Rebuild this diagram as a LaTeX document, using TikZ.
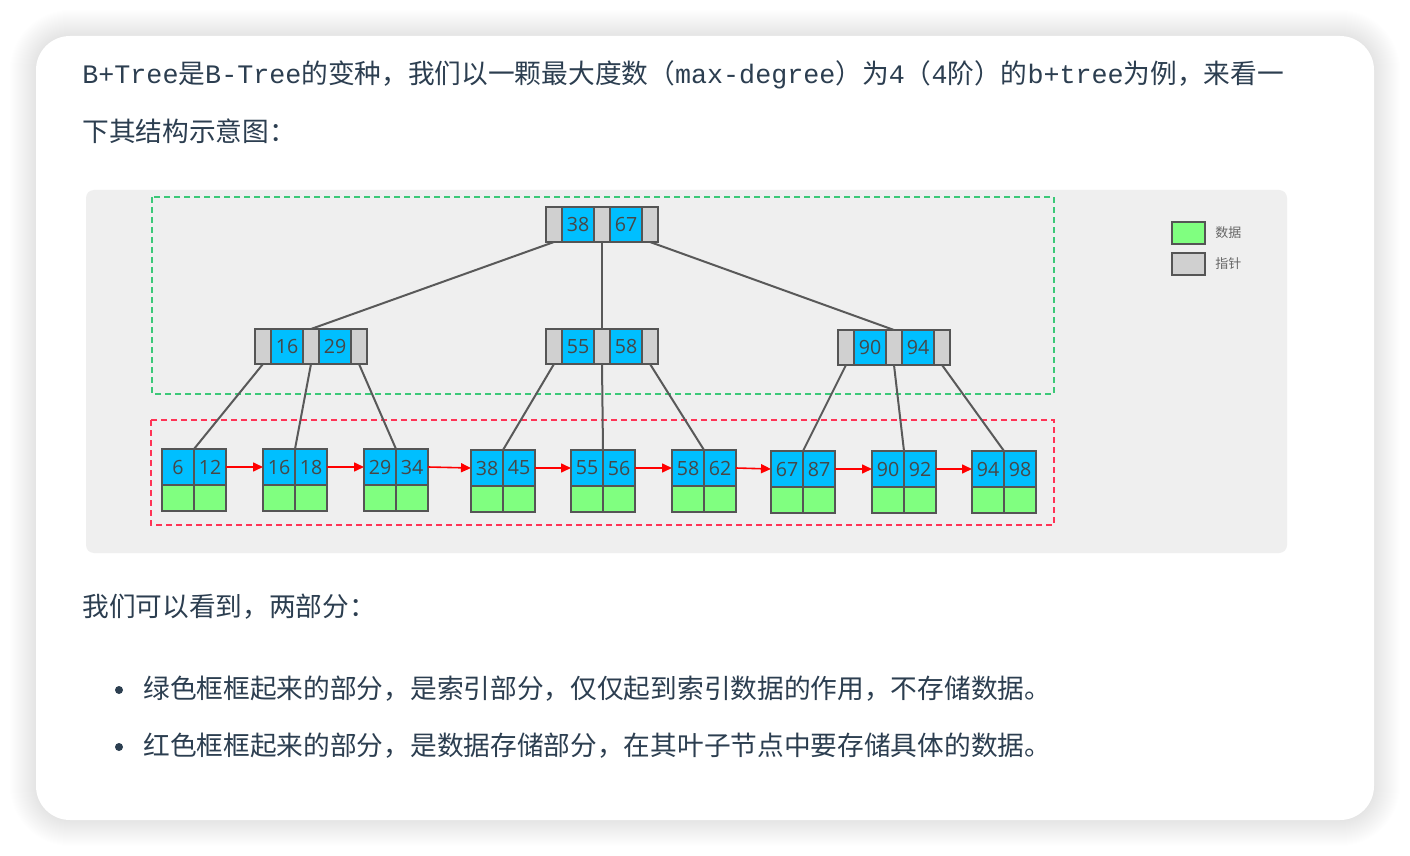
\documentclass[tikz,border=0pt]{standalone}
\usepackage{fontspec}
\setmainfont{Noto Sans CJK SC}
\setmonofont{Liberation Mono}
\newfontfamily\numfont{Open Sans}
\usetikzlibrary{arrows.meta, positioning}
\definecolor{keyblue}{HTML}{00BFFF}
\definecolor{datgreen}{HTML}{80FF80}
\definecolor{ptrgray}{HTML}{D0D0D0}
\definecolor{cellline}{HTML}{555555}
\definecolor{txt}{HTML}{2C3E50}
\definecolor{panel}{HTML}{EFEFEF}
\definecolor{idxgreen}{HTML}{3CC878}
\definecolor{leafred}{HTML}{FF3355}

\tikzset{
  cell/.style={draw=cellline, line width=0.7pt, inner sep=0pt, outer sep=0pt,
    minimum height=17.5pt, font=\numfont\fontsize{9.8}{11}\selectfont, text=black!72},
  ptr/.style={cell, fill=ptrgray, minimum width=8pt},
  key/.style={cell, fill=keyblue, minimum width=16pt},
  dat/.style={cell, fill=datgreen, minimum width=16pt, minimum height=13pt},
  edge/.style={draw=black!65, line width=1pt},
  link/.style={draw=red, line width=0.8pt, -{Triangle[length=5pt,width=4.5pt]}},
  frame/.style={dash pattern=on 3pt off 2pt, line width=0.6pt},
  para/.style={anchor=west, inner sep=0pt, text=txt, font=\fontsize{13.35}{16}\selectfont},
  legend/.style={right=5pt of #1, inner sep=0pt, text=black!60, font=\fontsize{6.5}{8}\selectfont},
}

\begin{document}
\begin{tikzpicture}[x=0.5pt, y=-0.5pt]
\useasboundingbox (0,0) rectangle (1410,856);
\fill[white] (0,0) rectangle (1410,856);

% card with soft shadow
\foreach \i in {1,...,26}{
  \pgfmathsetmacro\rc{17+0.5*\i}
  \fill[black, opacity=0.005, rounded corners=\rc pt] ({36-\i},{36-\i}) rectangle ({1374+\i},{820+\i});
}
\fill[white, rounded corners=17pt] (36,36) rectangle (1374,820);

% text above
\node[para] (intro1) at (82,75) {\texttt{B+Tree}是\texttt{B-Tree}的变种，我们以一颗最大度数（\texttt{max-degree}）为\texttt{4}（\texttt{4}阶）的\texttt{b+tree}为例，来看一};
\node[para] (intro2) at (82,131) {下其结构示意图：};

% diagram panel
\fill[panel, rounded corners=4pt] (86,190) rectangle (1287,553);
\draw[frame, idxgreen] (152,197) rectangle (1054,394);
\draw[frame, leafred] (151,420) rectangle (1054,525);

% index nodes
\foreach \nm/\x/\y/\a/\b in {r/546/207/38/67, i1/255/329/16/29, i2/546/329/55/58, i3/838/330/90/94}{
  \node[ptr, anchor=north west] (\nm-p1) at (\x,\y) {};
  \node[key, right=0pt of \nm-p1] (\nm-k1) {\a};
  \node[ptr, right=0pt of \nm-k1] (\nm-p2) {};
  \node[key, right=0pt of \nm-p2] (\nm-k2) {\b};
  \node[ptr, right=0pt of \nm-k2] (\nm-p3) {};
}

% leaf nodes
\foreach \n/\x/\y/\a/\b in {1/162/449/6/12, 2/263/449/16/18, 3/364/449/29/34,
  4/471/450/38/45, 5/571/450/55/56, 6/672/450/58/62,
  7/771/451/67/87, 8/872/451/90/92, 9/972/451/94/98}{
  \node[key, minimum height=18pt, anchor=north west] (l\n-a) at (\x,\y) {\a};
  \node[key, minimum height=18pt, right=0pt of l\n-a] (l\n-b) {\b};
  \node[dat, below=0pt of l\n-a] (l\n-c) {};
  \node[dat, below=0pt of l\n-b] (l\n-d) {};
}

% tree edges
\draw[edge] (r-p1.south) -- (i1-p2.north);
\draw[edge] (r-p2.south) -- (i2-p2.north);
\draw[edge] (r-p3.south) -- (i3-p2.north);
\draw[edge] (i1-p1.south) -- (l1-a.north east);
\draw[edge] (i1-p2.south) -- (l2-a.north east);
\draw[edge] (i1-p3.south) -- (l3-a.north east);
\draw[edge] (i2-p1.south) -- (l4-a.north east);
\draw[edge] (i2-p2.south) -- (l5-a.north east);
\draw[edge] (i2-p3.south) -- (l6-a.north east);
\draw[edge] (i3-p1.south) -- (l7-a.north east);
\draw[edge] (i3-p2.south) -- (l8-a.north east);
\draw[edge] (i3-p3.south) -- (l9-a.north east);

% leaf chain
\foreach \n [evaluate=\n as \m using int(\n+1)] in {1,...,8}
  \draw[link] (l\n-b.east) -- (l\m-a.west);

% legend
\node[dat, minimum width=16.5pt, minimum height=11pt, anchor=north west] (lg-dat) at (1172,222) {};
\node[legend=lg-dat] (lg-dat-t) {数据};
\node[ptr, minimum width=16.5pt, minimum height=11pt, anchor=north west] (lg-ptr) at (1172,253) {};
\node[legend=lg-ptr] (lg-ptr-t) {指针};

% text below
\node[para] (sum) at (82,607) {我们可以看到，两部分：};
\fill[txt] (119,690) circle (2pt);
\node[para] (item1) at (143,689) {绿色框框起来的部分，是索引部分，仅仅起到索引数据的作用，不存储数据。};
\fill[txt] (119,747) circle (2pt);
\node[para] (item2) at (143,746) {红色框框起来的部分，是数据存储部分，在其叶子节点中要存储具体的数据。};
\end{tikzpicture}
\end{document}
